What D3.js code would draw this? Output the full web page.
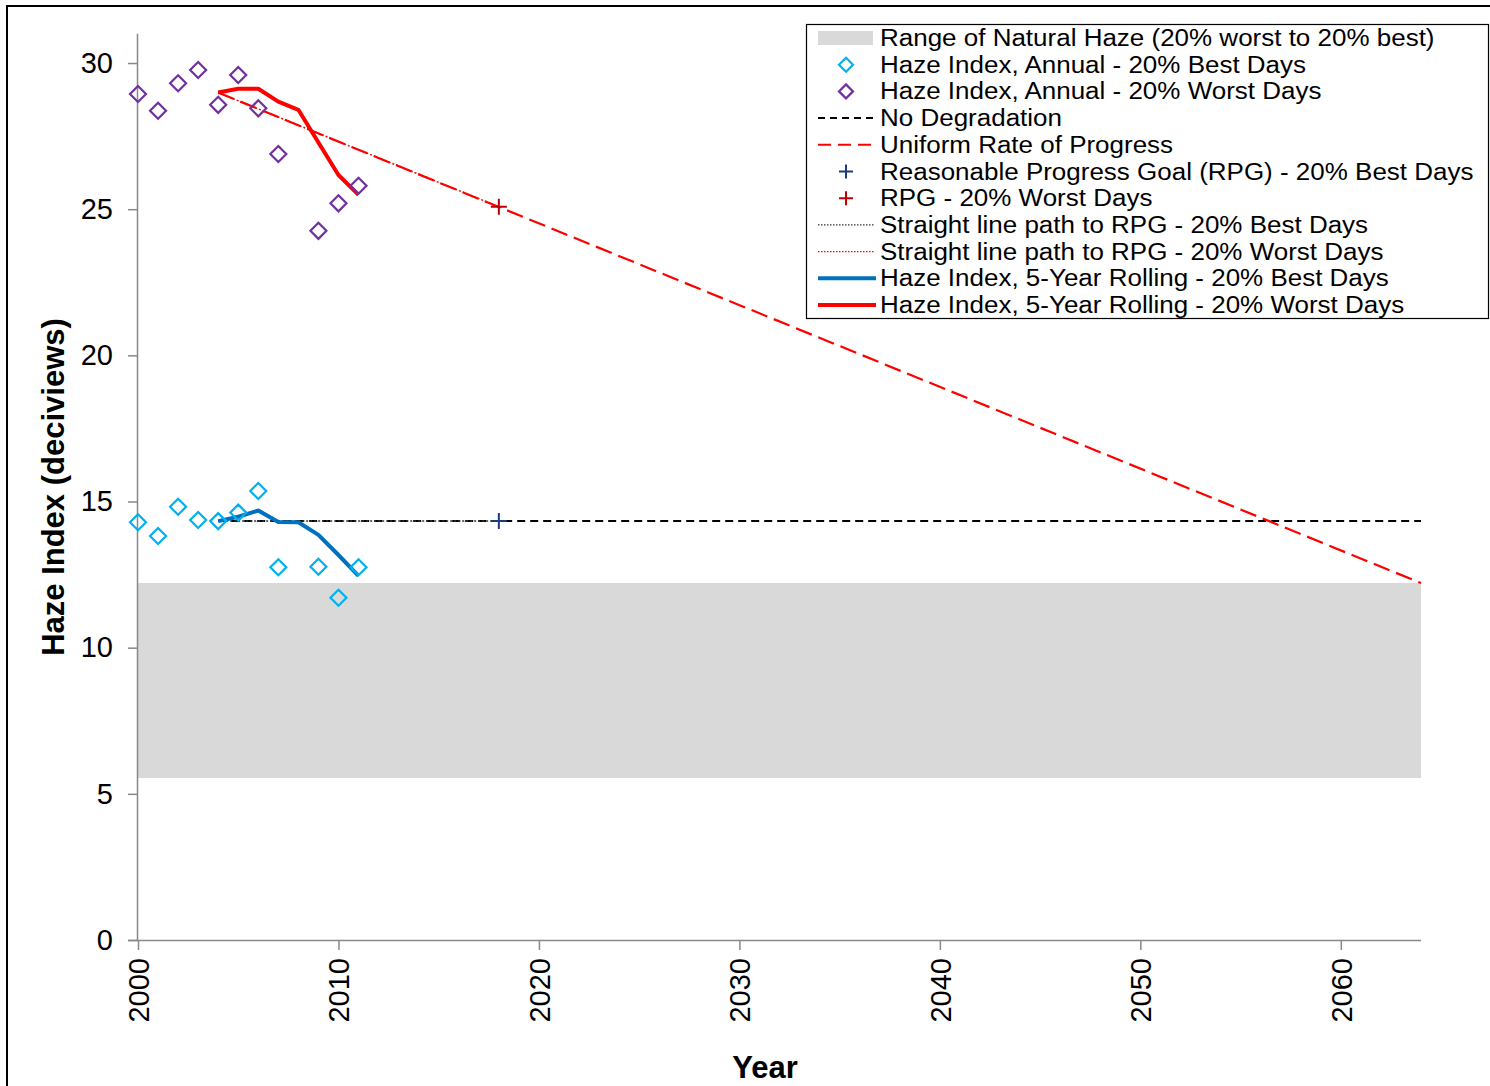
<!DOCTYPE html>
<html><head><meta charset="utf-8">
<script src="https://cdn.jsdelivr.net/npm/d3@7"></script>
<style>body{margin:0;background:#fff;}svg{display:block;font-family:"Liberation Sans",Arial,sans-serif;}</style>
</head><body>
<svg id="c" width="1490" height="1086"></svg>
<script>
// ---- data ----
const bestYears = [2000,2001,2002,2003,2004,2005,2006,2007,2009,2010,2011];
const bestAnnual = [14.29,13.82,14.82,14.37,14.33,14.62,15.36,12.75,12.77,11.71,12.75];
const worstYears = [2000,2001,2002,2003,2004,2005,2006,2007,2009,2010,2011];
const worstAnnual = [28.94,28.37,29.31,29.76,28.57,29.59,28.45,26.89,24.26,25.20,25.80];
const rollingYears = [2004,2005,2006,2007,2008,2009,2010,2011];
const bestRolling = [14.33,14.48,14.69,14.30,14.29,13.86,13.17,12.46];
const worstRolling = [28.99,29.12,29.12,28.68,28.40,27.28,26.17,25.49];
const naturalYears = [2000,2064];
const naturalLow = [5.54,5.54];
const naturalHigh = [12.21,12.21];
const noDegYears = [2004,2064];
const noDegValues = [14.33,14.33];
const urpYears = [2004,2064];
const urpValues = [28.99,12.21];
const rpgYear = 2018;
const rpgBest = 14.33;
const rpgWorst = 25.08;
const baselineYear = 2004;
const baselineBest = 14.33;
const baselineWorst = 28.99;
const xTicks = [2000,2010,2020,2030,2040,2050,2060];
const yTicks = [0,5,10,15,20,25,30];
const legendLabels = [
 "Range of Natural Haze (20% worst to 20% best)",
 "Haze Index, Annual - 20% Best Days",
 "Haze Index, Annual - 20% Worst Days",
 "No Degradation",
 "Uniform Rate of Progress",
 "Reasonable Progress Goal (RPG) - 20% Best Days",
 "RPG - 20% Worst Days",
 "Straight line path to RPG - 20% Best Days",
 "Straight line path to RPG - 20% Worst Days",
 "Haze Index, 5-Year Rolling - 20% Best Days",
 "Haze Index, 5-Year Rolling - 20% Worst Days"
];

// ---- drawing ----
const svg = d3.select("#c");
const C = {best:"#00B0F0", worst:"#7030A0", bestRoll:"#0070C0", worstRoll:"#FF0000",
  rpgBest:"#1F3A7A", rpgWorst:"#C00000", band:"#D9D9D9", axis:"#888888"};

svg.append("rect").attr("x",7).attr("y",6).attr("width",1500).attr("height",1100)
  .attr("fill","none").attr("stroke","#000").attr("stroke-width",2);

const x = d3.scaleLinear().domain([2000,2064]).range([138,1421]);
const y = d3.scaleLinear().domain([0,31]).range([940,33.8]);

// band
svg.append("path").datum(naturalYears.map((yr,i)=>({yr,lo:naturalLow[i],hi:naturalHigh[i]})))
  .attr("fill",C.band)
  .attr("d",d3.area().x(d=>x(d.yr)).y0(d=>y(d.lo)).y1(d=>y(d.hi)));

// axes
const yAxis = d3.axisLeft(y).tickValues(yTicks).tickSize(10).tickPadding(15).tickFormat(d3.format("d"));
const gy = svg.append("g").attr("transform","translate(138,0)").call(yAxis);
gy.select(".domain").attr("d",`M-0.5,${y(31)}V${y(0)}`);
const xAxis = d3.axisBottom(x).tickValues(xTicks).tickSize(10).tickPadding(8).tickFormat(d3.format("d"));
const gx = svg.append("g").attr("transform","translate(0,940)").call(xAxis);
gx.select(".domain").attr("d",`M128,0.5H1421`);
[gx,gy].forEach(g=>{
  g.selectAll(".domain,.tick line").attr("stroke",C.axis).attr("stroke-width",1.5);
  g.selectAll("text").attr("fill","#000").style("font-size","29px").style("font-family","Liberation Sans, Arial, sans-serif");
});
gx.selectAll(".tick text").attr("transform","rotate(-90)").attr("text-anchor","end")
  .attr("x",-18).attr("y",0).attr("dy","0.36em");

svg.append("text").attr("transform","translate(64,487) rotate(-90)").attr("text-anchor","middle")
  .style("font-size","31px").style("font-weight","bold").text("Haze Index (deciviews)");
svg.append("text").attr("x",765).attr("y",1078).attr("text-anchor","middle")
  .style("font-size","31px").style("font-weight","bold").text("Year");

const line = d3.line().x(d=>x(d[0])).y(d=>y(d[1]));
const zip = (a,b)=>a.map((v,i)=>[v,b[i]]);

// No degradation
svg.append("path").attr("d",line(zip(noDegYears,noDegValues))).attr("fill","none")
  .attr("stroke","#000").attr("stroke-width",2).attr("stroke-dasharray","8,5");
// URP
svg.append("path").attr("d",line(zip(urpYears,urpValues))).attr("fill","none")
  .attr("stroke","#FF0000").attr("stroke-width",2.2).attr("stroke-dasharray","17,7");
// straight line paths
svg.append("path").attr("d",line([[baselineYear,baselineBest],[rpgYear,rpgBest]])).attr("fill","none")
  .attr("stroke","#333").attr("stroke-width",1.5).attr("stroke-dasharray","2,2");
svg.append("path").attr("d",line([[baselineYear,baselineWorst],[rpgYear,rpgWorst]])).attr("fill","none")
  .attr("stroke","#FF0000").attr("stroke-width",1.5).attr("stroke-dasharray","2,2");

// rolling lines
svg.append("path").attr("d",line(zip(rollingYears,bestRolling))).attr("fill","none")
  .attr("stroke",C.bestRoll).attr("stroke-width",4).attr("stroke-linejoin","round");
svg.append("path").attr("d",line(zip(rollingYears,worstRolling))).attr("fill","none")
  .attr("stroke",C.worstRoll).attr("stroke-width",4).attr("stroke-linejoin","round");

const diamond = (cx,cy,r)=>`M${cx},${cy-r}L${cx+r},${cy}L${cx},${cy+r}L${cx-r},${cy}Z`;
const plus = (cx,cy,r)=>`M${cx-r},${cy}H${cx+r}M${cx},${cy-r}V${cy+r}`;

svg.append("g").selectAll("path").data(zip(bestYears,bestAnnual)).join("path")
  .attr("d",d=>diamond(x(d[0]),y(d[1]),8)).attr("fill","none").attr("stroke",C.best).attr("stroke-width",2.2);
svg.append("g").selectAll("path").data(zip(worstYears,worstAnnual)).join("path")
  .attr("d",d=>diamond(x(d[0]),y(d[1]),8)).attr("fill","none").attr("stroke",C.worst).attr("stroke-width",2.2);

svg.append("path").attr("d",plus(x(rpgYear),y(rpgBest),8)).attr("stroke",C.rpgBest).attr("stroke-width",2);
svg.append("path").attr("d",plus(x(rpgYear),y(rpgWorst),8)).attr("stroke",C.rpgWorst).attr("stroke-width",2);

// legend
const lg = svg.append("g");
lg.append("rect").attr("x",806.5).attr("y",24.5).attr("width",682).attr("height",294)
  .attr("fill","#fff").attr("stroke","#000").attr("stroke-width",1.2);
const ly = i=>38+i*26.7;
const lt = lg.append("g").attr("transform","translate(880,0) scale(1.13,1)");
legendLabels.forEach((t,i)=>{
  lt.append("text").attr("x",0).attr("y",ly(i)).attr("dy","0.35em").style("font-size","23px").text(t);
});
lg.append("rect").attr("x",818).attr("y",ly(0)-7).attr("width",55).attr("height",14).attr("fill",C.band);
lg.append("path").attr("d",diamond(846,ly(1),7)).attr("fill","none").attr("stroke",C.best).attr("stroke-width",2.2);
lg.append("path").attr("d",diamond(846,ly(2),7)).attr("fill","none").attr("stroke",C.worst).attr("stroke-width",2.2);
lg.append("path").attr("d",`M818,${ly(3)}H873`).attr("stroke","#000").attr("stroke-width",2).attr("stroke-dasharray","7,5");
lg.append("path").attr("d",`M818,${ly(4)}H876`).attr("stroke","#FF0000").attr("stroke-width",2).attr("stroke-dasharray","13,7");
lg.append("path").attr("d",plus(846,ly(5),7)).attr("stroke",C.rpgBest).attr("stroke-width",2);
lg.append("path").attr("d",plus(846,ly(6),7)).attr("stroke",C.rpgWorst).attr("stroke-width",2);
lg.append("path").attr("d",`M818,${ly(7)}H875`).attr("stroke","#333").attr("stroke-width",1.2).attr("stroke-dasharray","1.5,1.5");
lg.append("path").attr("d",`M818,${ly(8)}H875`).attr("stroke","#FF0000").attr("stroke-width",1.2).attr("stroke-dasharray","1.5,1.5");
lg.append("path").attr("d",`M818,${ly(9)}H876`).attr("stroke",C.bestRoll).attr("stroke-width",4);
lg.append("path").attr("d",`M818,${ly(10)}H876`).attr("stroke",C.worstRoll).attr("stroke-width",4);
</script>
</body></html>
